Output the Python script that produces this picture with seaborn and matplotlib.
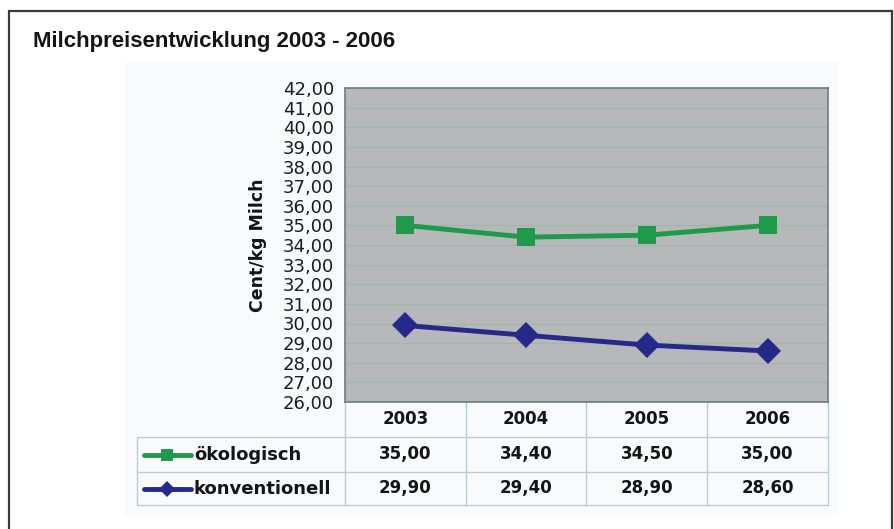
import pandas as pd
import numpy as np
import matplotlib.pyplot as plt
import matplotlib.patches as mpatches
from matplotlib.lines import Line2D
import seaborn as sns

# Data
years = ['2003', '2004', '2005', '2006']
oeko = [35.00, 34.40, 34.50, 35.00]
konv = [29.90, 29.40, 28.90, 28.60]
series_names = ['ökologisch', 'konventionell']
series_colors = ['#1f9a4b', '#26288a']
series_markers = ['s', 'D']
yticks = np.arange(26, 43, 1)

data = pd.DataFrame({
    'pos': list(range(len(years))) * 2,
    'Jahr': years * 2,
    'Wert': oeko + konv,
    'Serie': [series_names[0]] * 4 + [series_names[1]] * 4,
})

sns.set_style('white')
plt.rcParams['font.family'] = ['Liberation Sans', 'DejaVu Sans']
plt.rcParams['text.color'] = '#141414'
plt.rcParams['axes.labelcolor'] = '#141414'
plt.rcParams['ytick.labelcolor'] = '#1c1c1c'
DV = ['DejaVu Sans']

W, H = 895, 529
fig = plt.figure(figsize=(W / 100, H / 100), dpi=100)

def fx(px):
    return px / W

def fy(py):
    return 1 - py / H

# outer frame and soft inner panel
fig.patches.append(mpatches.Rectangle((fx(9), fy(540)), fx(883), 1, transform=fig.transFigure,
                                      fill=False, edgecolor='#3a3a3a', linewidth=1.6))
fig.patches.append(mpatches.Rectangle((fx(125), fy(515)), fx(713), fy(62) - fy(515),
                                      transform=fig.transFigure, facecolor='#f9fafc',
                                      edgecolor='none', zorder=-5))

fig.text(fx(33), fy(42), 'Milchpreisentwicklung 2003 - 2006', fontsize=16,
         fontweight='bold', va='center', ha='left')

L, T, R, B = 345, 88, 828, 402
ax = fig.add_axes([fx(L), fy(B), fx(R - L), fy(T) - fy(B)])
ax.set_zorder(2)
ax.set_facecolor('#b6b8ba')

sns.lineplot(data=data, x='pos', y='Wert', hue='Serie', style='Serie',
             palette=series_colors, markers=series_markers, dashes=False,
             markersize=13, linewidth=3.5, markeredgewidth=0, legend=False, ax=ax)

ax.set_xlim(-0.5, len(years) - 0.5)
ax.set_ylim(yticks[0], yticks[-1])
ax.set_yticks(yticks)
ax.set_yticklabels([f'{v:.2f}'.replace('.', ',') for v in yticks], fontsize=13, family=DV)
ax.set_xticks([])
ax.set_xlabel('')
ax.set_ylabel('Cent/kg Milch', fontsize=12.5, fontweight='bold', family=DV, labelpad=11)
ax.yaxis.grid(True, color='#9db8aa', linewidth=0.9)
ax.tick_params(axis='y', length=6, width=0.8, color='#aab4ba', pad=2)
for sp in ax.spines.values():
    sp.set_color('#6b7c84')
    sp.set_linewidth(1.2)

# data table below the chart
tc = '#bccbd8'
col_edges = np.linspace(L, R, len(years) + 1)
rows_y = [402, 437, 472, 505]
tl = 137
for x in col_edges:
    fig.add_artist(Line2D([fx(x), fx(x)], [fy(402), fy(505)], transform=fig.transFigure,
                          color=tc, linewidth=1))
fig.add_artist(Line2D([fx(tl), fx(tl)], [fy(437), fy(505)], transform=fig.transFigure,
                      color=tc, linewidth=1))
for y in rows_y[1:]:
    fig.add_artist(Line2D([fx(tl), fx(R)], [fy(y), fy(y)], transform=fig.transFigure,
                          color=tc, linewidth=1))

centers = (col_edges[:-1] + col_edges[1:]) / 2
for cx, yr in zip(centers, years):
    fig.text(fx(cx), fy(419), yr, ha='center', va='center', fontsize=12,
             fontweight='bold', family=DV)

for i, (name, vals, col, mk) in enumerate(zip(series_names, [oeko, konv], series_colors, series_markers)):
    yc = (rows_y[i + 1] + rows_y[i + 2]) / 2
    fig.add_artist(Line2D([fx(144), fx(191)], [fy(yc), fy(yc)], transform=fig.transFigure,
                          color=col, linewidth=3.5))
    fig.add_artist(Line2D([fx(167)], [fy(yc)], transform=fig.transFigure,
                          color=col, marker=mk, markersize=8, markeredgewidth=0))
    fig.text(fx(194), fy(yc), name, ha='left', va='center', fontsize=13,
             fontweight='bold', family=DV)
    for cx, v in zip(centers, vals):
        fig.text(fx(cx), fy(yc), f'{v:.2f}'.replace('.', ','), ha='center', va='center',
                 fontsize=12, fontweight='bold', family=DV)

fig.savefig('out.png', dpi=100)
